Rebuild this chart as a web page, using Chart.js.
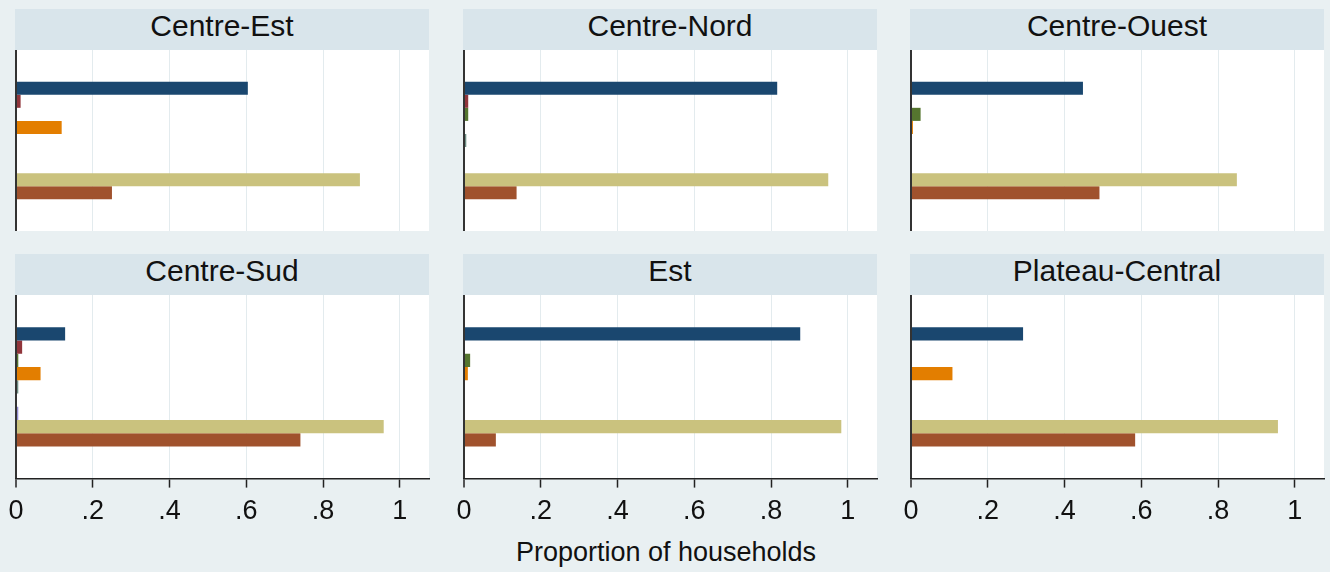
<!DOCTYPE html>
<html>
<head>
<meta charset="utf-8">
<script src="https://cdn.jsdelivr.net/npm/chart.js@4.4.1/dist/chart.umd.min.js"></script>
<style>
  html, body { margin:0; padding:0; }
  body { width:1330px; height:572px; background:#e9f0f2; position:relative; overflow:hidden;
         font-family:"Liberation Sans", Arial, sans-serif; }
  .hdr { position:absolute; width:414px; height:41px; background:#d9e5eb; color:#111;
         font-size:30px; line-height:33px; text-align:center; }
  canvas { position:absolute; }
  #xtitle { position:absolute; left:0; width:1330px; text-align:center; top:536px;
            font-size:27px; line-height:32px; color:#111; padding-left:2px; box-sizing:border-box; }
</style>
</head>
<body>
<div id="xtitle">Proportion of households</div>
<script>
// ---- data ----
const REGIONS = ["Centre-Est", "Centre-Nord", "Centre-Ouest", "Centre-Sud", "Est", "Plateau-Central"];
const SERIES_NAMES = ["Series 1", "Series 2", "Series 3", "Series 4", "Series 5", "Series 6", "Series 7", "Series 8", "Series 9"];
const S1 = [0.604, 0.816, 0.448, 0.128, 0.876, 0.292];
const S2 = [0.012, 0.011, 0.000, 0.016, 0.000, 0.000];
const S3 = [0.000, 0.011, 0.025, 0.006, 0.016, 0.000];
const S4 = [0.119, 0.000, 0.005, 0.064, 0.010, 0.108];
const S5 = [0.000, 0.006, 0.000, 0.006, 0.000, 0.000];
const S6 = [0.000, 0.000, 0.000, 0.000, 0.000, 0.000];
const S7 = [0.000, 0.000, 0.000, 0.006, 0.000, 0.000];
const S8 = [0.896, 0.949, 0.849, 0.958, 0.983, 0.956];
const S9 = [0.250, 0.137, 0.491, 0.741, 0.083, 0.584];
const TICKS = [0, 0.2, 0.4, 0.6, 0.8, 1];
const TICK_LABELS = ["0", ".2", ".4", ".6", ".8", "1"];
const X_TITLE = "Proportion of households";

// ---- styles ----
const SERIES = [S1, S2, S3, S4, S5, S6, S7, S8, S9];
const COLORS = ["#1a476f", "#90353b", "#55752f", "#e37e00", "#6e8e84", "#c10534", "#938dd2", "#cac27e", "#a0522d"];
const COL_LEFT = [0, 448, 895];     // canvas left per column
const HDR_LEFT = [15, 463, 910];
const ROW_HDR_TOP = [9, 254];
const ROW_PLOT_TOP = [50, 295];

document.getElementById('xtitle').textContent = X_TITLE;

const whiteArea = {
  id: 'whiteArea',
  beforeDraw(chart) {
    const a = chart.chartArea, ctx = chart.ctx;
    ctx.save(); ctx.fillStyle = '#ffffff';
    ctx.fillRect(a.left, a.top, a.right - a.left, a.bottom - a.top);
    ctx.restore();
  }
};

REGIONS.forEach((name, r) => {
  const row = Math.floor(r / 3), col = r % 3;
  const bottom = row === 1;
  const hdr = document.createElement('div');
  hdr.className = 'hdr';
  hdr.style.left = HDR_LEFT[col] + 'px';
  hdr.style.top = ROW_HDR_TOP[row] + 'px';
  hdr.textContent = name;
  document.body.appendChild(hdr);

  const cv = document.createElement('canvas');
  const W = 430, H = bottom ? 241 : 181;
  cv.width = W; cv.height = H;
  cv.style.left = COL_LEFT[col] + 'px';
  cv.style.top = ROW_PLOT_TOP[row] + 'px';
  cv.style.width = W + 'px'; cv.style.height = H + 'px';
  document.body.appendChild(cv);

  new Chart(cv, {
    type: 'bar',
    data: {
      labels: [name],
      datasets: SERIES.map((s, i) => ({
        label: SERIES_NAMES[i],
        data: [s[r]],
        backgroundColor: COLORS[i],
        borderWidth: 0,
        categoryPercentage: 0.65,
        barPercentage: 1.0
      }))
    },
    options: {
      indexAxis: 'y',
      responsive: false,
      animation: false,
      devicePixelRatio: 1,
      layout: { padding: { left: 16, right: 1, top: 0, bottom: 0 } },
      plugins: { legend: { display: false }, tooltip: { enabled: false }, title: { display: false } },
      scales: {
        y: { display: false },
        x: {
          min: 0, max: 1.076,
          afterBuildTicks(scale) { scale.ticks = TICKS.map(v => ({ value: v })); },
          grid: {
            color: ctx => (ctx.tick && ctx.tick.value === 0) ? '#333333' : '#e3ebee',
            lineWidth: ctx => (ctx.tick && ctx.tick.value === 0) ? 2 : 1,
            drawTicks: bottom,
            tickLength: 9,
            tickColor: '#222222',
            tickWidth: 1.5
          },
          border: { display: bottom, color: '#222222', width: 1.5 },
          ticks: {
            display: bottom,
            padding: 8,
            color: '#111111',
            font: { family: '"Liberation Sans", Arial, sans-serif', size: 27 },
            maxRotation: 0,
            autoSkip: false,
            callback: (v, i) => TICK_LABELS[i]
          }
        }
      }
    },
    plugins: [whiteArea]
  });
});
</script>
</body>
</html>
